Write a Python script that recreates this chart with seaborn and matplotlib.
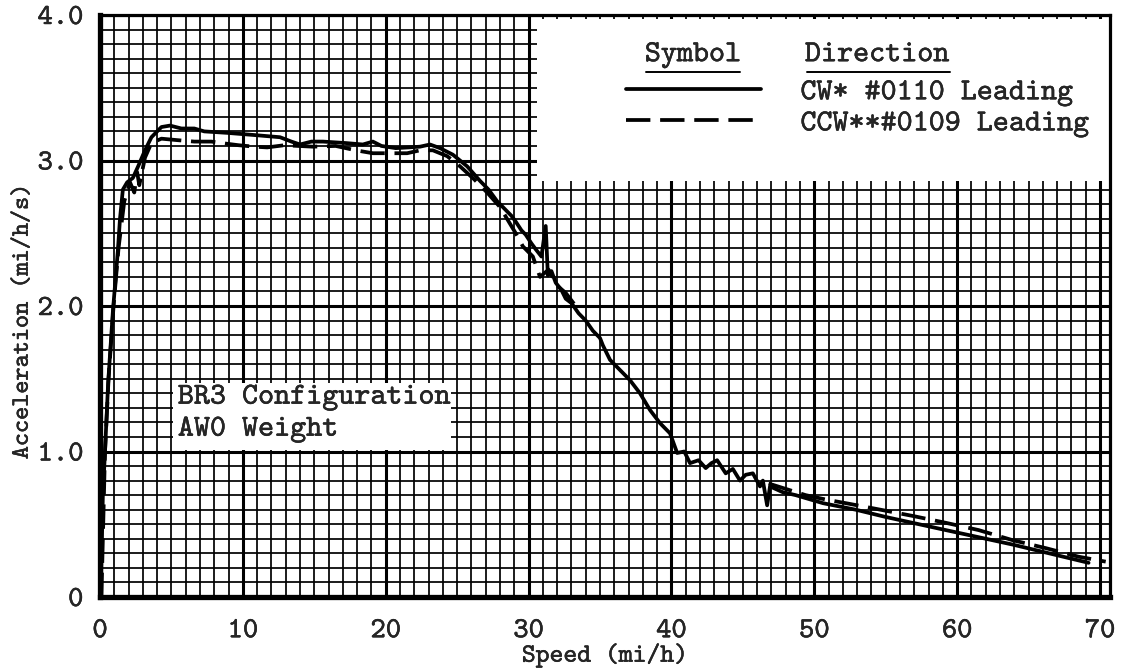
import matplotlib
matplotlib.use("Agg")
import matplotlib.pyplot as plt
import matplotlib.patheffects as pe
from matplotlib.patches import Rectangle
from matplotlib.ticker import MultipleLocator
import pandas as pd
import seaborn as sns

# CW* run, car #0110 leading
cw_speed = [0.05, 0.2, 0.35, 0.57, 0.9, 1.25, 1.4, 1.6, 1.9, 2.3, 2.67, 3.15, 3.6,
            4.3, 4.9, 5.7, 6.6, 7.3, 8.9, 10.8, 12.6, 13.4, 14.0, 14.8, 15.6, 17.2,
            18.4, 19.1, 19.7, 20.7, 21.6, 22.4, 23.1, 23.8, 24.7, 25.7, 26.6, 27.2,
            27.8, 28.4, 28.8, 29.1, 29.5, 29.8, 30.2, 30.5, 30.9, 31.2, 31.35, 31.6,
            31.9, 32.3, 32.6, 33.0, 33.5, 34.0, 34.5, 35.0, 35.2, 35.7, 36.4, 37.1,
            37.8, 38.5, 39.2, 39.9, 40.4, 40.9, 41.3, 41.9, 42.4, 42.8, 43.2, 43.8,
            44.3, 44.8, 45.2, 45.7, 46.2, 46.4, 46.7, 46.9, 47.8, 48.7, 50.6, 52.9,
            55.0, 59.2, 63.9, 69.2]
cw_accel = [0.0, 0.7, 1.0, 1.47, 1.96, 2.38, 2.6, 2.8, 2.85, 2.88, 2.96, 3.07, 3.16,
            3.23, 3.24, 3.22, 3.22, 3.2, 3.19, 3.175, 3.16, 3.13, 3.11, 3.13, 3.13, 3.12,
            3.11, 3.13, 3.10, 3.085, 3.09, 3.095, 3.11, 3.085, 3.04, 2.96, 2.86, 2.80,
            2.72, 2.66, 2.62, 2.58, 2.52, 2.49, 2.43, 2.39, 2.34, 2.55, 2.21, 2.24,
            2.16, 2.11, 2.05, 2.02, 1.95, 1.90, 1.83, 1.78, 1.73, 1.63, 1.56, 1.49,
            1.40, 1.285, 1.195, 1.125, 0.99, 1.0, 0.92, 0.94, 0.886, 0.92, 0.94, 0.85,
            0.88, 0.80, 0.84, 0.85, 0.76, 0.80, 0.63, 0.76, 0.72, 0.70, 0.645, 0.60,
            0.55, 0.46, 0.36, 0.235]

# CCW** run, car #0109 leading (recorded in two stretches)
ccw_speed_low = [0.1, 0.35, 0.6, 0.95, 1.3, 1.7, 2.1, 2.4, 2.6, 2.75, 3.15, 3.6, 4.3,
                 5.4, 6.6, 7.8, 8.5, 9.7, 10.8, 11.7, 12.9, 14.9, 16.5, 17.9, 19.1,
                 20.3, 21.5, 22.4, 23.3, 24.3, 25.2, 26.2, 27.1, 28.0, 29.1, 29.6,
                 30.3, 30.8, 31.4, 32.0, 32.6, 33.3]
ccw_accel_low = [0.0, 1.0, 1.5, 2.0, 2.4, 2.72, 2.85, 2.78, 2.92, 2.83, 3.02, 3.12, 3.15,
                 3.14, 3.13, 3.13, 3.12, 3.105, 3.095, 3.09, 3.105, 3.095, 3.1, 3.07, 3.05,
                 3.05, 3.05, 3.07, 3.07, 3.03, 2.96, 2.87, 2.78, 2.68, 2.50, 2.41,
                 2.34, 2.20, 2.25, 2.14, 2.09, 2.0]
ccw_speed_high = [46.8, 49.4, 50.8, 52.2, 54.1, 56.9, 59.2, 61.5, 63.9, 66.2, 68.5, 70.4]
ccw_accel_high = [0.78, 0.70, 0.67, 0.645, 0.61, 0.557, 0.51, 0.46, 0.39, 0.336, 0.277, 0.243]

x_ticks = [0, 10, 20, 30, 40, 50, 60, 70]
x_tick_labels = ["0", "10", "20", "30", "40", "50", "60", "70"]
y_ticks = [0, 1, 2, 3, 4]
y_tick_labels = ["0", "1.0", "2.0", "3.0", "4.0"]

series_labels = ["CW* #0110 Leading", "CCW**#0109 Leading"]
legend_headers = ["Symbol", "Direction"]
note_lines = ["BR3 Configuration", "AW0 Weight"]

sns.set_theme(style="white")
plt.rcParams["font.family"] = ["cmtt10", "DejaVu Sans Mono"]
plt.rcParams["mathtext.fontset"] = "cm"

# typewriter lettering is a little heavier than the plain face
ink = [pe.withStroke(linewidth=0.3, foreground="black")]

fig = plt.figure(figsize=(11.21, 6.71), dpi=100)
ax = fig.add_axes([100 / 1121, 74 / 671, 1010 / 1121, 582 / 671])

ax.set_xlim(0, 70.7)
ax.set_ylim(0, 4.0)

# graph-paper grid
ax.xaxis.set_major_locator(MultipleLocator(10))
ax.xaxis.set_minor_locator(MultipleLocator(1))
ax.yaxis.set_major_locator(MultipleLocator(1))
ax.yaxis.set_minor_locator(MultipleLocator(0.1))
ax.grid(which="minor", color="black", linewidth=1.25, zorder=0.5)
ax.grid(which="major", color="black", linewidth=2.2, zorder=0.5)
ax.set_axisbelow(True)

# white panels behind the legend and the configuration note
ax.add_patch(Rectangle((30.6, 2.86), 40.1, 1.115, facecolor="white",
                       edgecolor="none", zorder=1))
ax.add_patch(Rectangle((5.1, 1.01), 19.5, 0.46, facecolor="white",
                       edgecolor="none", zorder=1))

cw = pd.DataFrame({"speed": cw_speed, "accel": cw_accel})
ccw_low = pd.DataFrame({"speed": ccw_speed_low, "accel": ccw_accel_low})
ccw_high = pd.DataFrame({"speed": ccw_speed_high, "accel": ccw_accel_high})

dash = (0, (6.5, 2.6))
sns.lineplot(data=cw, x="speed", y="accel", ax=ax, color="black", linewidth=2.7,
             estimator=None, sort=False, label=series_labels[0], zorder=3)
sns.lineplot(data=ccw_low, x="speed", y="accel", ax=ax, color="black", linewidth=2.7,
             linestyle=dash, estimator=None, sort=False, label=series_labels[1], zorder=3)
sns.lineplot(data=ccw_high, x="speed", y="accel", ax=ax, color="black", linewidth=2.7,
             linestyle=dash, estimator=None, sort=False, label="_nolegend_", zorder=3)

handles, labels = ax.get_legend_handles_labels()
leg = ax.legend(handles[:2], labels[:2], loc="upper left",
                bbox_to_anchor=(0.521, 0.892), frameon=False, fontsize=22,
                handlelength=4.4, handletextpad=1.3, labelspacing=0.09,
                borderpad=0, borderaxespad=0)
leg.set_zorder(4)
for t in leg.get_texts():
    t.set_path_effects(ink)

# legend column headers, underlined
hdr_y = 0.931
ax.text(0.587, hdr_y, legend_headers[0], transform=ax.transAxes, ha="center",
        va="center", fontsize=22, zorder=4, path_effects=ink)
ax.text(0.698, hdr_y, legend_headers[1], transform=ax.transAxes, ha="left",
        va="center", fontsize=22, zorder=4, path_effects=ink)
ax.plot([0.541, 0.634], [0.902, 0.902], transform=ax.transAxes, color="black",
        linewidth=1.4, zorder=4)
ax.plot([0.700, 0.842], [0.902, 0.902], transform=ax.transAxes, color="black",
        linewidth=1.4, zorder=4)

# configuration note
ax.text(5.45, 1.37, note_lines[0], ha="left", va="center", fontsize=22, zorder=4,
        path_effects=ink)
ax.text(5.45, 1.15, note_lines[1], ha="left", va="center", fontsize=22, zorder=4,
        path_effects=ink)

ax.set_xticks(x_ticks)
ax.set_xticklabels(x_tick_labels)
ax.set_yticks(y_ticks)
ax.set_yticklabels(y_tick_labels)
ax.tick_params(axis="x", which="both", length=0, pad=16, labelsize=21)
ax.tick_params(axis="y", which="both", length=0, pad=12, labelsize=21)
for lbl in ax.get_xticklabels() + ax.get_yticklabels():
    lbl.set_path_effects(ink)

ax.set_xlabel("Speed (mi/h)", fontsize=19, path_effects=ink)
ax.set_ylabel("Acceleration (mi/h/s)", fontsize=18, path_effects=ink)
ax.xaxis.set_label_coords(0.5, -0.10)
ax.xaxis.label.set_va("center")
ax.yaxis.set_label_coords(-0.076, 0.473)
ax.yaxis.label.set_va("center")

for side, lw in {"left": 3.8, "bottom": 3.8, "top": 2.3, "right": 2.3}.items():
    ax.spines[side].set_visible(True)
    ax.spines[side].set_color("black")
    ax.spines[side].set_linewidth(lw)
    ax.spines[side].set_zorder(5)

fig.savefig("out.png", dpi=100)
